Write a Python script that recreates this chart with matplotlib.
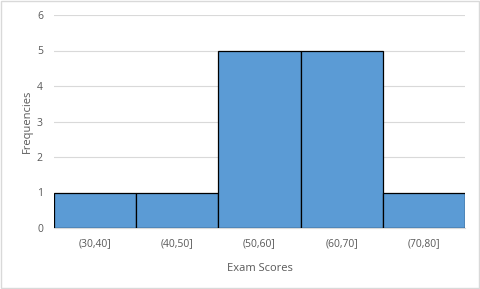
import matplotlib
matplotlib.use("Agg")
import matplotlib.pyplot as plt
from matplotlib.patches import Rectangle

bins = ["(30,40]", "(40,50]", "(50,60]", "(60,70]", "(70,80]"]
counts = [1, 1, 5, 5, 1]

plt.rcParams["font.family"] = ["Open Sans", "DejaVu Sans"]

fig = plt.figure(figsize=(4.8, 2.89), dpi=100)
ax = fig.add_axes([54 / 480, 61 / 289, 411 / 480, 213 / 289])

x = list(range(len(bins)))
ax.bar(x, counts, width=1.0, color="#5B9BD5", edgecolor="black", linewidth=0.9, zorder=3)

ax.set_xlim(-0.5, len(bins) - 0.5)
ax.set_ylim(0, 6)
ax.set_yticks(range(7))
ax.set_xticks(x)
ax.set_xticklabels(bins)
ax.tick_params(axis="both", length=0, labelsize=7.5, labelcolor="#595959")
ax.tick_params(axis="x", pad=7)
ax.tick_params(axis="y", pad=8)
ax.grid(axis="y", color="#D9D9D9", linewidth=0.8, zorder=0)
for side in ["top", "right", "left"]:
    ax.spines[side].set_visible(False)
ax.spines["bottom"].set_color("#D9D9D9")

ax.set_xlabel("Exam Scores", fontsize=8, color="#595959", labelpad=10)
ax.set_ylabel("Frequencies", fontsize=8, color="#595959", labelpad=3)

fig.patches.append(Rectangle((0.002, 0.003), 0.995, 0.994, transform=fig.transFigure,
                             fill=False, edgecolor="#D9D9D9", linewidth=1))

fig.savefig("out.png", dpi=100)
